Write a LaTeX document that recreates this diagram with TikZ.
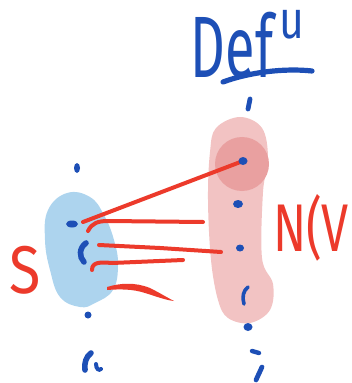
\documentclass[tikz,border=0pt]{standalone}
\usepackage{fontspec}
\usepackage{graphicx}
\setmainfont{Fira Sans}
\definecolor{inkblue}{HTML}{1D4FB6}
\definecolor{inkred}{HTML}{EC3A2B}
\definecolor{blobblue}{HTML}{ADD4EE}
\definecolor{pinklight}{HTML}{F2C3C3}
\definecolor{pinkdark}{HTML}{E9A0A0}
\tikzset{
  redink/.style={draw=inkred, line width=1mm, line cap=round, line join=round},
  blueink/.style={draw=inkblue, line width=1.4mm, line cap=round},
  bluedot/.style={fill=inkblue},
  label/.style={inner sep=0pt, outer sep=0pt},
}
\begin{document}
\begin{tikzpicture}[x=0.25mm, y=-0.25mm]
\useasboundingbox (0,0) rectangle (352,383);

% neighbourhood band on the right
\fill[pinklight] plot[smooth cycle, tension=0.6] coordinates {
  (216,128) (240,117) (262,128) (268,158) (263,192) (262,258)
  (273,284) (270,310) (250,323) (228,318) (218,300) (211,260) (208,200) (210,152)};
\fill[pinkdark] (242,164) circle [radius=27];

% the set S on the left
\fill[blobblue] plot[smooth cycle, tension=0.7] coordinates {
  (67,193) (90,197) (104,215) (114,240) (118,265) (113,290) (95,303)
  (80,307) (60,297) (50,270) (45,240) (48,210)};

% vertex positions
\coordinate (s1) at (77,168);
\coordinate (s2) at (72,224);
\coordinate (s4) at (88,315);
\coordinate (v1) at (243,161);
\coordinate (v2) at (238,204);
\coordinate (v3) at (240,248);
\coordinate (v5) at (248,327);
\coordinate (e1) at (83,222);

% edges from S towards the band
\draw[redink] (e1) -- (v1);
\draw[redink] (88,231) .. controls (92,223) and (98,221) .. (108,221) -- (203,222);
\draw[redink] (99,245) -- (160,248) -- (221,252);
\draw[redink] (92,270) .. controls (92,262) and (100,262) .. (112,263) -- (183,260);
\fill[inkred] (107,287) .. controls (120,283) and (135,282) .. (150,288)
  .. controls (160,293) and (168,298) .. (174,301)
  .. controls (165,300) and (155,296) .. (145,293)
  .. controls (133,289) and (120,289) .. (107,290) -- cycle;

% vertices in S and beyond
\fill[bluedot] (s1) ellipse [x radius=3, y radius=5];
\fill[bluedot] (s2) ellipse [x radius=6, y radius=3.5];
\draw[blueink] (86,243) .. controls (79,248) and (79,257) .. (84,262);
\fill[bluedot] (s4) circle [radius=3.5];
\draw[blueink] (91,353) .. controls (86,357) and (84,363) .. (85,370);
\draw[blueink, line width=1mm] (96,364) .. controls (96,369) and (99,371) .. (101,369);

% vertices along the band
\draw[blueink, line width=1.2mm] (250,99) -- (248,109);
\fill[bluedot] (v1) ellipse [x radius=4.5, y radius=4];
\fill[bluedot] (v2) ellipse [x radius=5, y radius=4];
\fill[bluedot] (v3) ellipse [x radius=4, y radius=3.5];
\draw[blueink, line width=0.9mm] (248,287) .. controls (243,291) and (242,297) .. (244,304);
\fill[bluedot] (v5) ellipse [x radius=4.5, y radius=4];
\draw[blueink, line width=1.1mm] (252,351) -- (259,353);
\draw[blueink, line width=1.2mm] (262,367) -- (256,380);

% labels
\node[label, text=inkblue] (def) at (232,45)
  {\fontsize{62}{62}\selectfont\scalebox{0.62}[1]{Def}};
\node[label, text=inkblue, anchor=base] (sup) at (292,39)
  {\fontsize{38}{38}\selectfont\scalebox{0.8}[1]{u}};
\draw[blueink, line width=1.3mm] (223,82) .. controls (250,72) and (285,68) .. (312,71);
\node[label, text=inkred] (S) at (25,270)
  {\fontsize{48}{48}\selectfont\scalebox{0.85}[1]{S}};
\node[label, text=inkred] (NV) at (311,228)
  {\fontsize{48}{48}\selectfont\scalebox{0.72}[1]{N(V}};
\end{tikzpicture}
\end{document}
